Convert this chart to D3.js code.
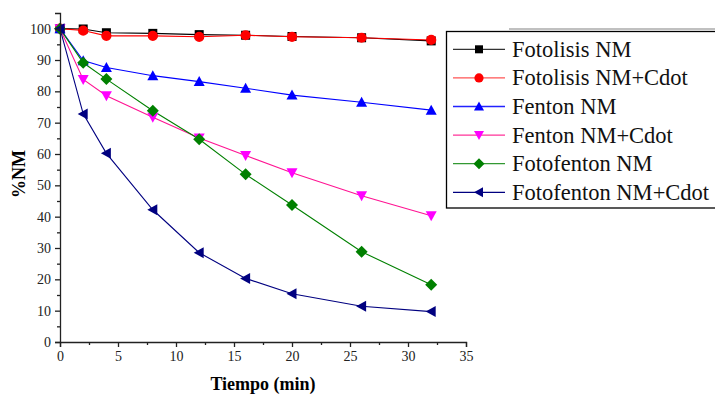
<!DOCTYPE html>
<html>
<head>
<meta charset="utf-8">
<script src="https://cdn.jsdelivr.net/npm/d3@7"></script>
<style>
	body { margin: 0; background: white; }
	svg { display: block; }
</style>
</head>
<body>
<div></div>
<script>
// time points (min)
var tiempo = [0, 2, 4, 8, 12, 16, 20, 26, 32];

// %NM for each series
var fotolisis_nm = [100, 99.9, 98.7, 98.5, 98.1, 97.9, 97.5, 97.1, 96.1];
var fotolisis_nm_cdot = [100, 99.4, 97.7, 97.7, 97.4, 97.9, 97.4, 97.1, 96.4];
var fenton_nm = [100, 89.8, 87.6, 85.0, 83.1, 81.0, 78.8, 76.5, 74.0];
var fenton_nm_cdot = [100, 83.8, 78.6, 71.7, 65.1, 59.5, 54.0, 46.7, 40.3];
var fotofenton_nm = [100, 89.1, 83.9, 73.8, 64.7, 53.5, 43.7, 28.8, 18.3];
var fotofenton_nm_cdot = [100, 72.8, 60.2, 42.2, 28.5, 20.3, 15.4, 11.4, 9.7];

var series_names = ['Fotolisis NM', 'Fotolisis NM+Cdot', 'Fenton NM', 'Fenton NM+Cdot', 'Fotofenton NM', 'Fotofenton NM+Cdot'];
var series_values = [fotolisis_nm, fotolisis_nm_cdot, fenton_nm, fenton_nm_cdot, fotofenton_nm, fotofenton_nm_cdot];

var x_ticks = [0, 5, 10, 15, 20, 25, 30, 35];
var y_ticks = [0, 10, 20, 30, 40, 50, 60, 70, 80, 90, 100];

// styling per series
var line_colors = ['#000000', '#ff0000', '#0000ff', '#ff1493', '#008000', '#000080'];
var marker_colors = ['#000000', '#ff0000', '#0000ff', '#ff00ff', '#008000', '#000080'];
var legend_line_colors = ['#333333', '#ff5555', '#2222ff', '#ff3399', '#339933', '#000080'];
var marker_shapes = ['square', 'circle', 'up', 'down', 'diamond', 'left'];

var serif = '"Liberation Serif"';
var width = 715;
var height = 394;

var svg = d3.select('div')
	.append('svg')
	.attr('width', width)
	.attr('height', height);

var x = d3.scaleLinear()
	.domain([0, 35])
	.range([60, 466]);

var y = d3.scaleLinear()
	.domain([0, 105])
	.range([342, 13]);

/**
 * Draws a marker shape centred on 0,0
 * @param {d3.Selection} g - group to draw into
 * @param {string} shape - marker name
 * @param {string} color - fill colour
 * @param {number} s - half size
 * @return {void} Nothing
 */
function draw_marker(g, shape, color, s) {
	var pts;
	if (shape == 'square') {
		g.append('rect')
			.attr('x', -s).attr('y', -s)
			.attr('width', 2 * s).attr('height', 2 * s)
			.style('fill', color);
		return;
	}
	if (shape == 'circle') {
		g.append('circle')
			.attr('r', s + 0.6)
			.style('fill', color);
		return;
	}
	if (shape == 'up') pts = [[0, -s - 1], [s + 1, s], [-s - 1, s]];
	if (shape == 'down') pts = [[0, s + 1], [s + 1, -s], [-s - 1, -s]];
	if (shape == 'diamond') pts = [[0, -s - 1.5], [s + 1.5, 0], [0, s + 1.5], [-s - 1.5, 0]];
	if (shape == 'left') pts = [[-s - 1, 0], [s, -s - 1], [s, s + 1]];
	g.append('polygon')
		.attr('points', pts.map(function(p) { return p.join(','); }).join(' '))
		.style('fill', color);
}

// series lines and markers
var line = d3.line()
	.x(function(d, i) { return x(tiempo[i]); })
	.y(function(d) { return y(d); });

series_values.forEach(function(vals, k) {
	svg.append('path')
		.datum(vals)
		.attr('d', line)
		.style('fill', 'none')
		.style('stroke', line_colors[k])
		.style('stroke-width', 1.1);
});

series_values.forEach(function(vals, k) {
	vals.forEach(function(v, i) {
		var g = svg.append('g')
			.attr('transform', 'translate(' + x(tiempo[i]) + ',' + y(v) + ')');
		draw_marker(g, marker_shapes[k], marker_colors[k], 4.5);
	});
});

// x axis
svg.append('g')
	.attr('transform', 'translate(0,342)')
	.call(d3.axisBottom(x).tickValues(x_ticks).tickSize(5).tickPadding(4));
svg.append('g')
	.attr('transform', 'translate(0,342)')
	.call(d3.axisBottom(x).tickValues(d3.range(2.5, 35, 5)).tickSize(3).tickFormat(''))
	.select('.domain').remove();

// y axis
svg.append('g')
	.attr('transform', 'translate(60,0)')
	.call(d3.axisLeft(y).tickValues(y_ticks).tickSize(5).tickPadding(4));
svg.append('g')
	.attr('transform', 'translate(60,0)')
	.call(d3.axisLeft(y).tickValues(d3.range(5, 105, 10)).tickSize(3).tickFormat(''))
	.select('.domain').remove();

svg.selectAll('.domain, .tick line')
	.style('stroke', '#222')
	.style('stroke-width', 1.3);
svg.selectAll('.tick text')
	.attr('font-family', null)
	.style('font-family', serif)
	.style('font-size', '14px')
	.style('fill', '#222');

// axis titles
svg.append('text')
	.attr('text-anchor', 'middle')
	.attr('x', 263)
	.attr('y', 390)
	.text('Tiempo (min)')
	.style('font-family', serif)
	.style('font-weight', 'bold')
	.style('font-size', '18px');

svg.append('text')
	.attr('text-anchor', 'middle')
	.attr('transform', 'translate(25,174) rotate(-90)')
	.text('%NM')
	.style('font-family', serif)
	.style('font-weight', 'bold')
	.style('font-size', '18px');

// legend
svg.append('line')
	.attr('x1', 509).attr('x2', 715)
	.attr('y1', 29).attr('y2', 29)
	.style('stroke', '#c0c0c0')
	.style('stroke-width', 2);

svg.append('rect')
	.attr('x', 446.5)
	.attr('y', 31.5)
	.attr('width', 300)
	.attr('height', 176.5)
	.style('fill', 'white')
	.style('stroke', 'black')
	.style('stroke-width', 1.3);

series_names.forEach(function(name, k) {
	var ly = 49.3 + k * 28.6;
	svg.append('line')
		.attr('x1', 453).attr('x2', 505)
		.attr('y1', ly).attr('y2', ly)
		.style('stroke', legend_line_colors[k])
		.style('stroke-width', 1.3);
	var g = svg.append('g')
		.attr('transform', 'translate(479,' + ly + ')');
	draw_marker(g, marker_shapes[k], marker_colors[k], 4);
	svg.append('text')
		.attr('x', 512)
		.attr('y', ly + 7.5)
		.text(name)
		.style('font-family', serif)
		.style('font-size', '22.5px')
		.style('fill', '#111');
});
</script>
</body>
</html>
